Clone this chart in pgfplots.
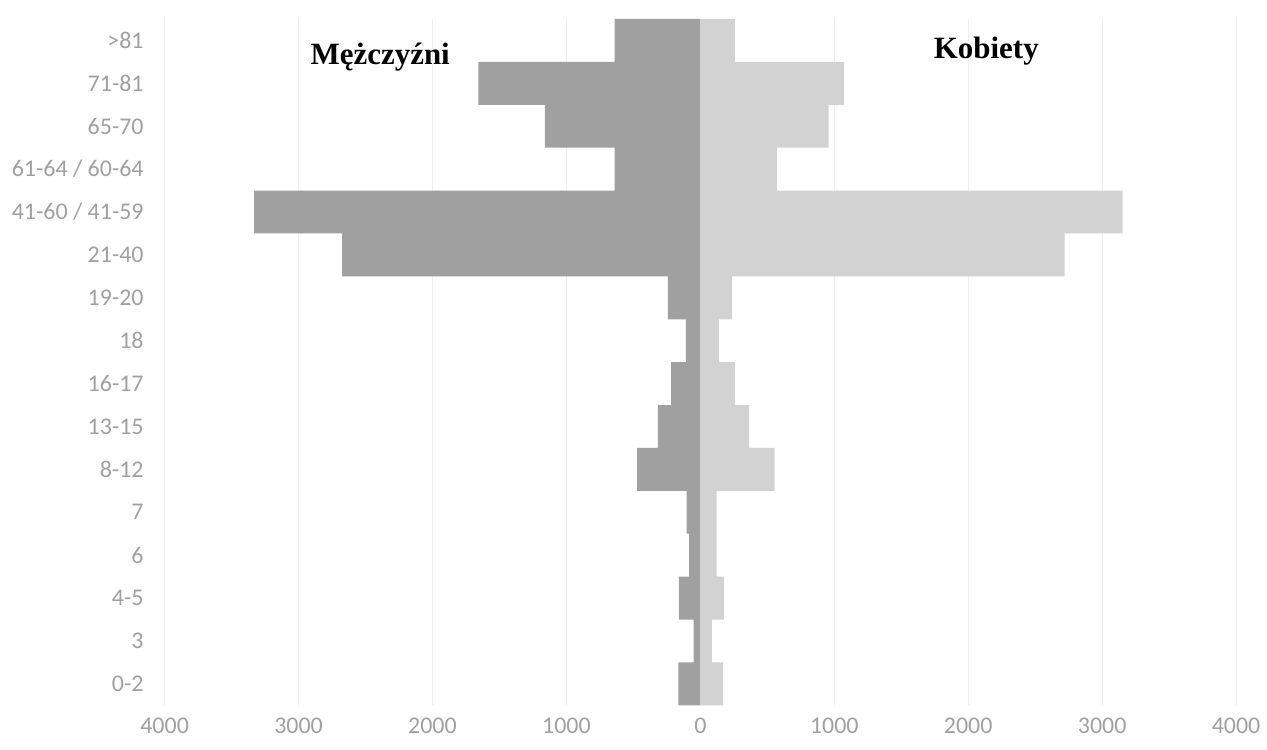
\documentclass[border=0pt]{standalone}
\usepackage{pgfplots}
\pgfplotsset{compat=1.18}
\usepackage{fontspec}
\setmainfont{Carlito}
\newfontfamily\titlefont{Liberation Serif}
\definecolor{mencol}{HTML}{A0A0A0}
\definecolor{womcol}{HTML}{D2D2D2}
\definecolor{tickcol}{HTML}{A0A0A0}
\definecolor{gridcol}{HTML}{EEEEEE}
\begin{document}
\begin{tikzpicture}
\begin{axis}[
  name=ax,
  scale only axis,
  width=537pt, height=344pt,
  xmin=-4000, xmax=4000,
  ymin=-0.5, ymax=15.5,
  xbar, bar width=1, bar shift=0,
  xtick={-4000,-3000,-2000,-1000,0,1000,2000,3000,4000},
  xticklabels={4000,3000,2000,1000,0,1000,2000,3000,4000},
  ytick={0,...,15},
  yticklabels={0-2,3,4-5,6,7,8-12,13-15,16-17,18,19-20,21-40,41-60 / 41-59,61-64 / 60-64,65-70,71-81,>81},
  xmajorgrids, major grid style={gridcol, line width=0.6pt},
  axis line style={draw=none},
  major tick length=0pt,
  tick label style={font=\fontsize{12}{14}\selectfont, text=tickcol},
  yticklabel style={xshift=-7pt},
  xticklabel style={yshift=-3pt},
  /pgf/number format/assume math mode=true,
  clip=false,
]
\addplot[draw=none, fill=mencol] coordinates {
(-165,0) (-50,1) (-160,2) (-84,3) (-102,4) (-473,5) (-317,6) (-218,7) (-109,8) (-243,9) (-2675,10) (-3331,11) (-640,12) (-1161,13) (-1658,14) (-640,15)};
\addplot[draw=none, fill=womcol] coordinates {
(170,0) (86,1) (178,2) (121,3) (121,4) (554,5) (364,6) (258,7) (139,8) (238,9) (2720,10) (3153,11) (572,12) (958,13) (1074,14) (258,15)};
\node[font=\titlefont\bfseries\fontsize{15.5}{18}\selectfont] at (axis cs:-2390,14.6) {Mężczyźni};
\node[font=\titlefont\bfseries\fontsize{15.5}{18}\selectfont] at (axis cs:2135,14.76) {Kobiety};
\end{axis}
\path ([xshift=-82.5pt,yshift=-22pt]ax.south west) rectangle ([xshift=14pt,yshift=9.5pt]ax.north east);
\end{tikzpicture}
\end{document}
